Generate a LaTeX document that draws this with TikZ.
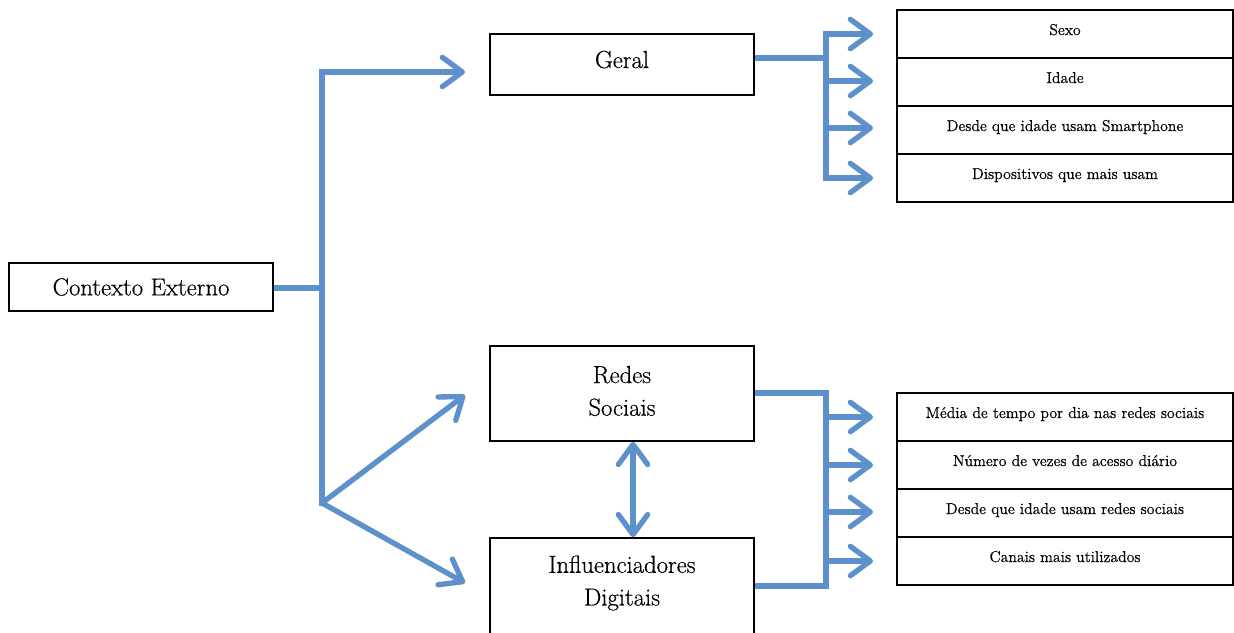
\documentclass[tikz,border=0pt]{standalone}
\usepackage{fontspec}
\setmainfont{Latin Modern Roman}[FakeBold=0.5]
\usetikzlibrary{arrows.meta}
\definecolor{conn}{RGB}{94,145,204}
\tikzset{
  big/.style={draw=black, line width=1.2pt, inner sep=0pt, minimum width=198pt, font=\fontsize{18.5}{24}\selectfont},
  bigtext/.style={inner sep=0pt, align=center, font=\fontsize{18.5}{24.5}\selectfont},
  rowbox/.style={draw=black, line width=1.2pt, inner sep=0pt, anchor=base, minimum width=252pt, text height=18.75pt, text depth=17.25pt, font=\fontsize{11.8}{14}\selectfont},
  link/.style={draw=conn, line width=4pt},
  arr/.style={link, -{Straight Barb[length=15pt, width=22pt, line cap=round, line join=round]}},
  darr/.style={link, {Straight Barb[length=15pt, width=22pt, line cap=round, line join=round]}-{Straight Barb[length=15pt, width=22pt, line cap=round, line join=round]}},
}
\begin{document}
\begin{tikzpicture}[x=0.75pt, y=-0.75pt]
\useasboundingbox (0,0) rectangle (1234,632);
% main boxes
\node[big, minimum height=36pt] (ctx) at (141,287) {Contexto Externo};
\node[big, text height=25.5pt, text depth=20.25pt] (geral) at (622,64.5) {Geral};
\node[big, minimum height=71.25pt] (redes) at (622,393.5) {};
\node[bigtext] (redest) at (622,391) {Redes\\Sociais};
\node[big, minimum height=73.5pt] (infl) at (622,587) {};
\node[bigtext] (inflt) at (622,583) {Influenciadores\\Digitais};
% right rows top
\node[rowbox] (s1) at (1065,35) {Sexo};
\node[rowbox] (s2) at (1065,83) {Idade};
\node[rowbox] (s3) at (1065,131) {Desde que idade usam Smartphone};
\node[rowbox] (s4) at (1065,179) {Dispositivos que mais usam};
% right rows bottom
\node[rowbox] (r1) at (1065,418) {Média de tempo por dia nas redes sociais};
\node[rowbox] (r2) at (1065,466) {Número de vezes de acesso diário};
\node[rowbox] (r3) at (1065,514) {Desde que idade usam redes sociais};
\node[rowbox] (r4) at (1065,562) {Canais mais utilizados};
% trunk left
\coordinate (tTop) at (322,72);
\coordinate (tMid) at (322,288);
\coordinate (tBot) at (322,503);
\coordinate (tipG) at (465,72);
\coordinate (tipR) at (465,395);
\coordinate (tipI) at (465,583);
\draw[link] (ctx.east |- tMid) -- (tMid);
\draw[link, line cap=rect] (tTop) -- (tBot);
\draw[arr] (tTop) -- (tipG);
\draw[arr] (tBot) -- (tipR);
\draw[arr] (tBot) -- (tipI);
% geral branch
\coordinate (gA) at (826,58);
\coordinate (gTop) at (826,34);
\coordinate (gBot) at (826,178);
\draw[link] (geral.east |- gA) -- (gA);
\draw[link, line cap=rect] (gTop) -- (gBot);
\foreach \y in {34,81,128,178} {
  \draw[arr] (826,\y) -- (873,\y);
}
% redes/influ branch
\coordinate (bTop) at (826,393);
\coordinate (bBot) at (826,586);
\draw[link] (redes.east |- bTop) -- (bTop) -- (bBot) -- (infl.east |- bBot);
\foreach \y in {417,465,512,561} {
  \draw[arr] (826,\y) -- (873,\y);
}
% double arrow
\draw[darr] (redes.south -| 633,0) -- (infl.north -| 633,0);
\end{tikzpicture}
\end{document}
